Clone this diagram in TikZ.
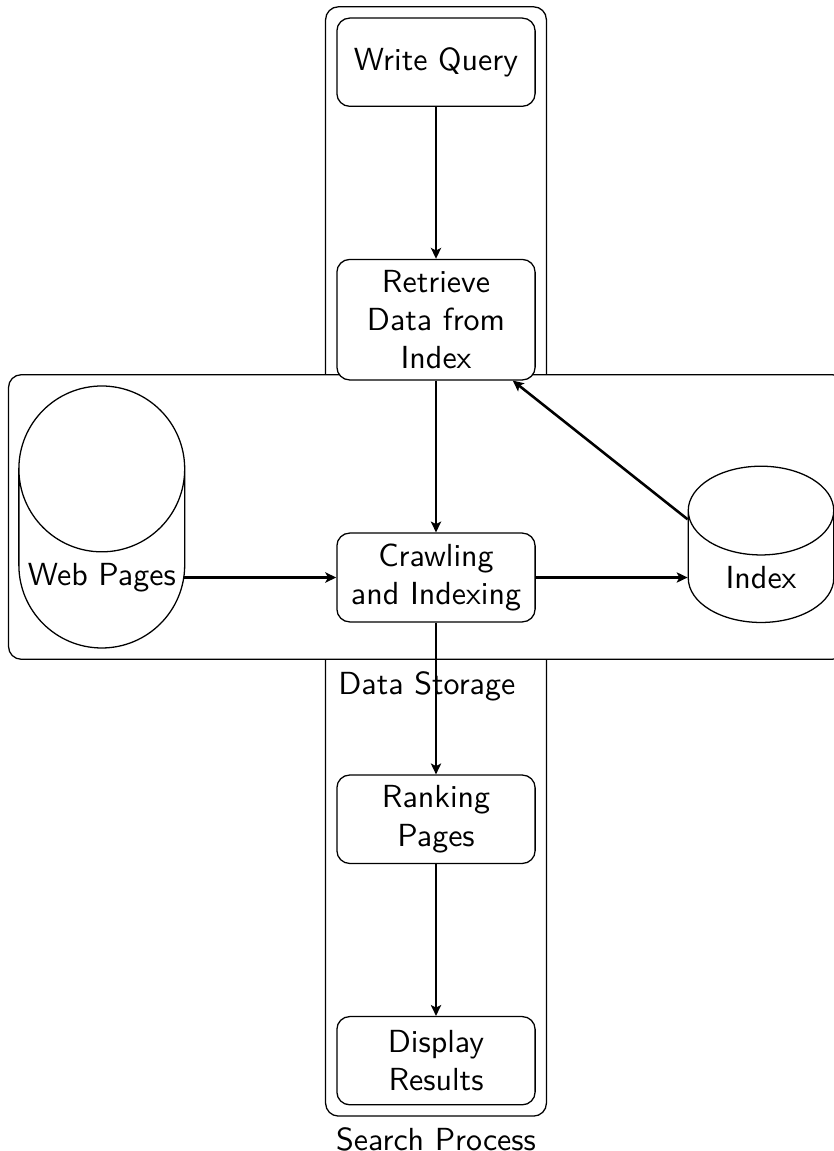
\documentclass[tikz,border=0pt]{standalone}
\usepackage{tikz}
\usetikzlibrary{shapes.geometric,arrows.meta,positioning,fit,backgrounds}

\begin{document}
\begin{tikzpicture}[
  font=\sffamily, node distance=1.67cm,
  process/.style={rectangle, rounded corners, draw, fill=white, align=center, text width=1.9cm, minimum width=2.18cm, minimum height=0.97cm},
  store/.style={cylinder, shape border rotate=90, draw, fill=white, align=center, inner xsep=2.8pt, minimum width=1.6cm},
  group/.style={rectangle, rounded corners, draw, inner sep=0.3333em},
  arr/.style={-{Stealth[length=3.4pt, width=3.2pt, inset=0.8pt]}, thick}
]
\useasboundingbox (-4.795,-6.307) rectangle (4.366,6.351);
\node[process] (crawl) {Crawling and Indexing};
\node[process, above=of crawl] (retrieve) {Retrieve Data from Index};
\node[process, above=of retrieve] (query) {Write Query};
\node[process, below=of crawl] (rank) {Ranking Pages};
\node[process, below=of rank] (display) {Display Results};
\node[store, left=of crawl] (web) {Web Pages};
\node[store, right=of crawl] (index) {Index};
\begin{scope}[on background layer]
\node[group, fit=(query)(display), label=below:Search Process] (search) {};
\node[group, fill=white, fit=(web)(index), label=below:Data Storage] (storage) {};
\end{scope}
\draw[arr] (query)--(retrieve); \draw[arr] (retrieve)--(crawl);
\draw[arr] (web)--(crawl); \draw[arr] (crawl)--(index);
\draw[arr] (index)--(retrieve); \draw[arr] (crawl)--(rank);
\draw[arr] (rank)--(display);
\end{tikzpicture}
\end{document}
